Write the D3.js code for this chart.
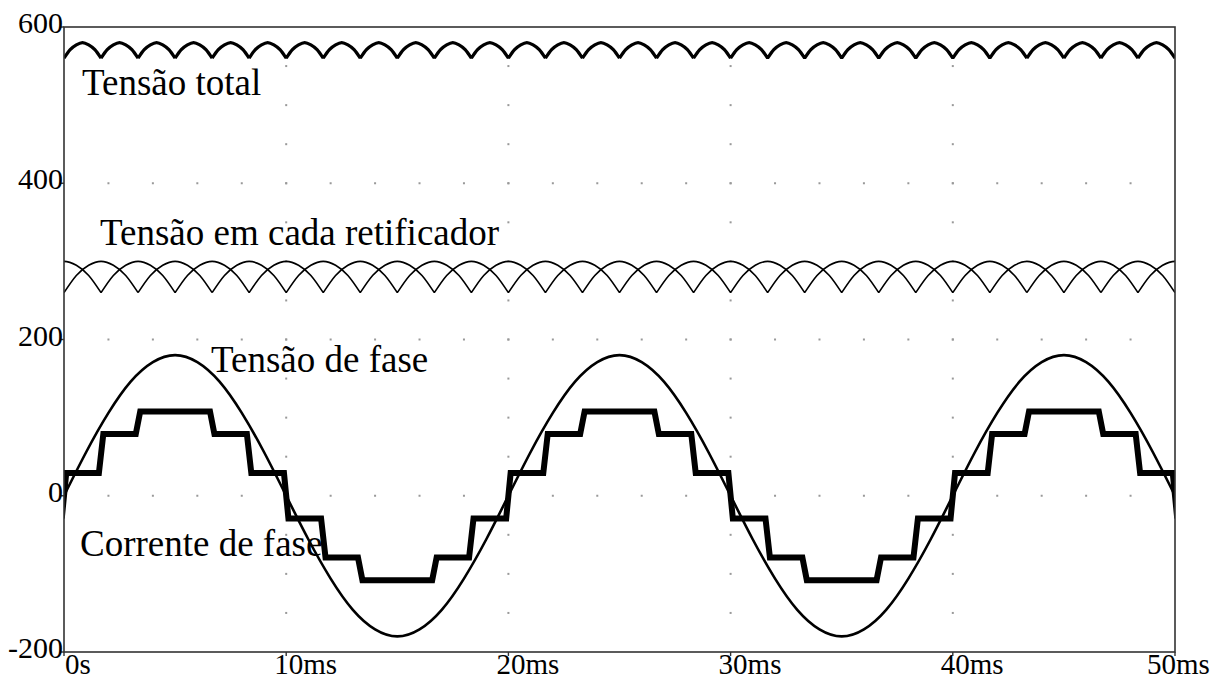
<!doctype html>
<html>
<head>
<meta charset="utf-8">
<script src="https://cdn.jsdelivr.net/npm/d3@7"></script>
<style>
  body { margin: 0; background: #fff; }
  text { font-family: "Liberation Serif", "Times New Roman", serif; fill: #000; }
</style>
</head>
<body>
<script>
// axis ticks
var xTicks = [0, 10, 20, 30, 40, 50];
var xTickLabels = ["0s", "10ms", "20ms", "30ms", "40ms", "50ms"];
var yTicks = [-200, 0, 200, 400, 600];
var yTickLabels = ["-200", "0", "200", "400", "600"];

// phase voltage, one period sampled every 1 ms
var phaseStepMs = 1;
var phasePeriodMs = 20;
var phaseSamples = [0, 56, 106, 146, 171, 180, 171, 146, 106, 56,
                    0, -56, -106, -146, -171, -180, -171, -146, -106, -56];

// voltage on each rectifier: one arch (cusp to cusp)
var rectArchMs = 10 / 3;
var rectArch = [260, 282, 295, 300, 295, 282, 260];
var rectShiftMs = [0, 5 / 3];

// total voltage: one ripple arch
var totalArchMs = 5 / 3;
var totalArch = [560, 571, 577, 580, 577, 571, 560];

// phase current, one period: step edges and levels
var currentEdgesMs = [0, 1.67, 3.33, 6.67, 8.33, 10, 11.67, 13.33, 16.67, 18.33];
var currentLevels = [29, 79, 108, 79, 29, -29, -79, -108, -79, -29];

var W = 1224, H = 680;
var svg = d3.select("body").append("svg").attr("width", W).attr("height", H);

var x = d3.scaleLinear().domain([0, 50]).range([64, 1175]);
var y = d3.scaleLinear().domain([-200, 600]).range([652, 27]);

svg.append("clipPath").attr("id", "plot")
  .append("rect")
  .attr("x", x(0)).attr("y", y(600))
  .attr("width", x(50) - x(0)).attr("height", y(-200) - y(600));

// dotted grid
var gridDots = [];
[400, 200, 0].forEach(function(v) {
  d3.range(2, 50, 2).forEach(function(t) { gridDots.push([t, v]); });
});
[10, 20, 30, 40].forEach(function(t) {
  d3.range(-150, 600, 50).forEach(function(v) { gridDots.push([t, v]); });
});
svg.append("g").selectAll("rect")
  .data(gridDots)
  .enter()
  .append("rect")
    .attr("x", function(d) { return x(d[0]) - 1; })
    .attr("y", function(d) { return y(d[1]) - 1; })
    .attr("width", 2).attr("height", 2)
    .attr("fill", "#999");

var line = d3.line()
  .x(function(d) { return x(d[0]); })
  .y(function(d) { return y(d[1]); });

var plot = svg.append("g").attr("clip-path", "url(#plot)");

// arches repeated along time, each as its own smooth piece (sharp cusps)
function archPath(values, spanMs, shiftMs) {
  var parts = [];
  var curved = d3.line()
    .x(function(d) { return x(d[0]); })
    .y(function(d) { return y(d[1]); })
    .curve(d3.curveNatural);
  for (var t0 = shiftMs - spanMs; t0 < 50; t0 += spanMs) {
    var pts = values.map(function(v, i) {
      return [t0 + i * spanMs / (values.length - 1), v];
    });
    parts.push(curved(pts));
  }
  return parts.join("");
}

// total voltage
plot.append("path")
  .attr("d", archPath(totalArch, totalArchMs, 0))
  .attr("fill", "none").attr("stroke", "#000").attr("stroke-width", 3.2);

// each rectifier
rectShiftMs.forEach(function(s) {
  plot.append("path")
    .attr("d", archPath(rectArch, rectArchMs, s))
    .attr("fill", "none").attr("stroke", "#000").attr("stroke-width", 1.6);
});

// phase voltage
var phasePts = [];
for (var t = 0; t <= 50; t += phaseStepMs) {
  var k = Math.round(t / phaseStepMs) % phaseSamples.length;
  phasePts.push([t, phaseSamples[k]]);
}
plot.append("path")
  .datum(phasePts)
  .attr("d", line.curve(d3.curveNatural))
  .attr("fill", "none").attr("stroke", "#000").attr("stroke-width", 2.6);

// phase current staircase
var ramp = 0.1;
var curPts = [];
for (var p = 0; p <= 2; p++) {
  currentEdgesMs.forEach(function(e, i) {
    var te = p * phasePeriodMs + e;
    if (te > 50.01) return;
    var prev = currentLevels[(i + currentLevels.length - 1) % currentLevels.length];
    curPts.push([te - ramp, prev]);
    curPts.push([te + ramp, currentLevels[i]]);
  });
}
curPts.push([50 + ramp, currentLevels[5]]);
plot.append("path")
  .attr("d", d3.line()
    .x(function(d) { return x(d[0]); })
    .y(function(d) { return y(d[1]); })(curPts))
  .attr("fill", "none").attr("stroke", "#000").attr("stroke-width", 6)
  .attr("stroke-linejoin", "miter");

// frame
svg.append("rect")
  .attr("x", x(0)).attr("y", y(600))
  .attr("width", x(50) - x(0)).attr("height", y(-200) - y(600))
  .attr("fill", "none").attr("stroke", "#333").attr("stroke-width", 1.6);

// ticks
svg.append("g").selectAll("line")
  .data(xTicks)
  .enter()
  .append("line")
    .attr("x1", function(d) { return x(d); }).attr("x2", function(d) { return x(d); })
    .attr("y1", y(-200)).attr("y2", y(-200) + 4)
    .attr("stroke", "#333").attr("stroke-width", 1.4);
svg.append("g").selectAll("line")
  .data(yTicks)
  .enter()
  .append("line")
    .attr("x1", x(0) - 4).attr("x2", x(0))
    .attr("y1", function(d) { return y(d); }).attr("y2", function(d) { return y(d); })
    .attr("stroke", "#333").attr("stroke-width", 1.4);

// tick labels
svg.append("g").selectAll("text")
  .data(xTicks)
  .enter()
  .append("text")
    .attr("x", function(d, i) {
      var dx = i == 0 ? 1 : (i == xTicks.length - 1 ? -28 : -12);
      return x(d) + dx;
    })
    .attr("y", 674)
    .attr("font-size", 29)
    .text(function(d, i) { return xTickLabels[i]; });

svg.append("g").selectAll("text")
  .data(yTicks)
  .enter()
  .append("text")
    .attr("x", x(0) - 1)
    .attr("y", function(d) { return y(d) + 6; })
    .attr("text-anchor", "end")
    .attr("font-size", 30)
    .text(function(d, i) { return yTickLabels[i]; });

// curve names
var names = [
  {text: "Tensão total", x: 82, y: 95},
  {text: "Tensão em cada retificador", x: 100, y: 245},
  {text: "Tensão de fase", x: 211, y: 372},
  {text: "Corrente de fase", x: 80, y: 556}
];
svg.append("g").selectAll("text")
  .data(names)
  .enter()
  .append("text")
    .attr("x", function(d) { return d.x; })
    .attr("y", function(d) { return d.y; })
    .attr("font-size", 37)
    .text(function(d) { return d.text; });
</script>
</body>
</html>
